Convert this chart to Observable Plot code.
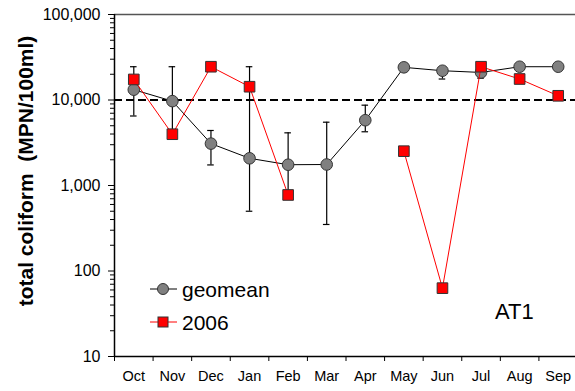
<!DOCTYPE html>
<html>
<head>
<meta charset="utf-8">
<script src="https://cdn.jsdelivr.net/npm/d3@7"></script>
<script src="https://cdn.jsdelivr.net/npm/@observablehq/plot@0.6"></script>
<style>
  html, body { margin: 0; padding: 0; background: #fff; overflow: hidden; }
  #chart svg { display: block; }
</style>
</head>
<body>
<div id="chart"></div>
<script>
const months = ["Oct","Nov","Dec","Jan","Feb","Mar","Apr","May","Jun","Jul","Aug","Sep"];
const geomean = [13200, 9700, 3090, 2080, 1750, 1760, 5800, 24100, 22000, 21000, 24500, 24500];
const geoLow  = [6500, 4000, 1740, 500, 800, 350, 4250, null, 17600, 18000, null, null];
const geoHigh = [24500, 24500, 4400, 24500, 4130, 5500, 8700, null, 22000, 21000, null, null];
const y2006   = [17400, 3980, 24500, 14300, 775, null, null, 2520, 63, 24500, 17600, 11200];
const standard = [10000];
const majorTicks = [10, 100, 1000, 10000, 100000];
const minorTicks = [10, 100, 1000, 10000].flatMap(p => [2,3,4,5,6,7,8,9].map(k => k * p));
const yLabel = "total coliform  (MPN/100ml)";
const siteLabel = "AT1";
const seriesNames = ["geomean", "2006"];

const geo = months.map((m, i) => ({i, m, v: geomean[i], lo: geoLow[i], hi: geoHigh[i]}));
const bars = geo.filter(d => d.lo != null);
const s06 = months.map((m, i) => ({i, m, v: y2006[i]}));
const boundaries = d3.range(-0.5, months.length - 1, 1);
const capHalf = 0.085;

const chart = Plot.plot({
  width: 575,
  height: 391,
  marginTop: 14,
  marginBottom: 35,
  marginLeft: 114,
  marginRight: 0,
  style: {fontFamily: "'Liberation Sans', Arial, sans-serif", background: "#fff", color: "#000"},
  x: {type: "linear", domain: [-0.5, 11.5], range: [114, 577], axis: null, label: null},
  y: {type: "log", domain: [10, 100000], axis: null, label: null},
  marks: [
    Plot.ruleY([100000], {stroke: "#555", strokeWidth: 1.3}),
    Plot.ruleY(standard, {stroke: "#000", strokeWidth: 2, strokeDasharray: "8,4"}),
    Plot.axisY({ticks: minorTicks, tickSize: 4, tickFormat: () => "", stroke: "#000", label: null}),
    Plot.axisY({ticks: majorTicks, tickSize: 6, tickPadding: 8, tickFormat: d3.format(","), fontSize: 16, stroke: "#000", label: null}),
    Plot.axisX({ticks: boundaries, tickSize: 5, tickFormat: () => "", stroke: "#000", label: null}),
    Plot.axisX({ticks: d3.range(months.length), tickSize: 0, tickPadding: 14, tickFormat: i => months[i], fontSize: 14.5, label: null}),
    Plot.ruleX([-0.5], {stroke: "#000", strokeWidth: 1.5}),
    Plot.ruleY([10], {stroke: "#000", strokeWidth: 1.5}),
    Plot.ruleX(bars, {x: "i", y1: "lo", y2: "hi", stroke: "#000", strokeWidth: 1.2}),
    Plot.ruleY(bars, {y: "lo", x1: d => d.i - capHalf, x2: d => d.i + capHalf, stroke: "#000", strokeWidth: 1.2}),
    Plot.ruleY(bars, {y: "hi", x1: d => d.i - capHalf, x2: d => d.i + capHalf, stroke: "#000", strokeWidth: 1.2}),
    Plot.line(geo, {x: "i", y: "v", stroke: "#000", strokeWidth: 1}),
    Plot.dot(geo, {x: "i", y: "v", symbol: "circle", r: 5.8, fill: "#808080", stroke: "#333", strokeWidth: 1}),
    Plot.line(s06, {x: "i", y: "v", stroke: "#ff0000", strokeWidth: 1}),
    Plot.dot(s06.filter(d => d.v != null), {x: "i", y: "v", symbol: "square", r: 6, fill: "#ff0000", stroke: "#333", strokeWidth: 1})
  ]
});

document.getElementById("chart").appendChild(chart);

const svg = d3.select(chart);
const font = "'Liberation Sans', Arial, sans-serif";
svg.append("text")
  .attr("transform", "translate(25,171) rotate(-90)")
  .attr("text-anchor", "middle")
  .attr("dominant-baseline", "central")
  .attr("font-family", font)
  .attr("font-weight", "bold")
  .attr("font-size", 21)
  .attr("fill", "#000")
  .text(yLabel);

const lg = svg.append("g").attr("font-family", font).attr("text-anchor", "start");
const rows = [
  {name: seriesNames[0], y: 289, stroke: "#000", kind: "circle"},
  {name: seriesNames[1], y: 322, stroke: "#ff0000", kind: "square"}
];
rows.forEach(r => {
  lg.append("line").attr("x1", 150).attr("x2", 177).attr("y1", r.y).attr("y2", r.y)
    .attr("stroke", r.stroke).attr("stroke-width", 1);
  if (r.kind === "circle") {
    lg.append("circle").attr("cx", 163).attr("cy", r.y).attr("r", 5.5)
      .attr("fill", "#808080").attr("stroke", "#333");
  } else {
    lg.append("rect").attr("x", 158).attr("y", r.y - 5).attr("width", 10).attr("height", 10)
      .attr("fill", "#ff0000").attr("stroke", "#333");
  }
  lg.append("text").attr("x", 182).attr("y", r.y).attr("dominant-baseline", "central")
    .attr("text-anchor", "start")
    .attr("font-size", 21).attr("fill", "#000").text(r.name);
});
svg.append("text").attr("x", 495).attr("y", 311).attr("dominant-baseline", "central")
  .attr("text-anchor", "start")
  .attr("font-family", font).attr("font-size", 22).attr("fill", "#000").text(siteLabel);
</script>
</body>
</html>
